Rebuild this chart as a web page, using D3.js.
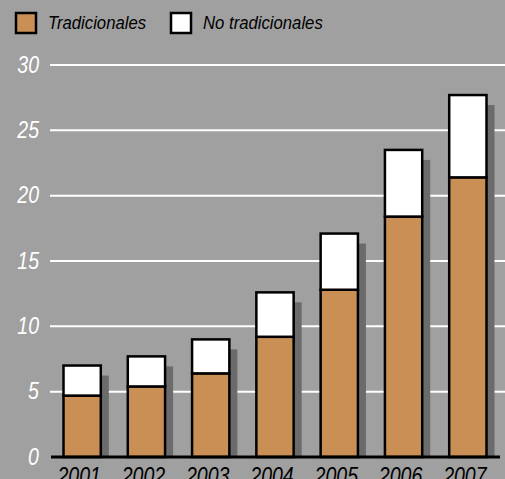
<!DOCTYPE html>
<html lang="es">
  <head>
    <meta charset="utf-8">
    <script src="https://cdnjs.cloudflare.com/ajax/libs/d3/7.8.5/d3.min.js"></script>
    <style>
      body { margin: 0; background: #a0a0a0; }
      svg { display: block; font-family: "Liberation Sans", Arial, sans-serif; font-style: italic; }
      .grid line { stroke: #fff; stroke-width: 2; }
      .ylab text { fill: #fff; font-size: 23px; }
      .xlab text { fill: #000; font-size: 23px; }
      .legend text { fill: #000; font-size: 19px; }
    </style>
  </head>
  <body>
  <script>
  var years = ['2001', '2002', '2003', '2004', '2005', '2006', '2007'];
  var tradicionales = [4.7, 5.4, 6.4, 9.2, 12.8, 18.4, 21.4];
  var noTradicionales = [2.3, 2.3, 2.6, 3.4, 4.3, 5.1, 6.3];
  var yTicks = [0, 5, 10, 15, 20, 25, 30];

  var width = 505,
      height = 479;

  // condensed look: squeeze the regular face horizontally
  var squeeze = 0.85;

  var svg = d3.select('body')
    .append('svg')
    .attr('width', width)
    .attr('height', height);

  var x = d3.scaleBand()
    .domain(years)
    .range([50, 500])
    .paddingInner(0.42)
    .paddingOuter(0.21);

  var y = d3.scaleLinear()
    .domain([0, 30])
    .range([457, 65]);

  var brown = '#c98f55';

  // gridlines
  svg.append('g').attr('class', 'grid')
    .selectAll('line')
    .data(yTicks.filter(d => d > 0))
    .enter().append('line')
      .attr('x1', 50).attr('x2', width)
      .attr('y1', d => y(d)).attr('y2', d => y(d));

  svg.append('g').attr('class', 'ylab')
    .selectAll('text')
    .data(yTicks)
    .enter().append('text')
      .attr('transform', d => 'translate(39,' + y(d) + ') scale(' + squeeze + ',1)')
      .attr('dy', '0.33em')
      .attr('text-anchor', 'end')
      .text(d => d);

  var rows = years.map((yr, i) => ({ year: yr, a: tradicionales[i], b: noTradicionales[i] }));

  // shadows
  svg.append('g')
    .selectAll('rect')
    .data(rows)
    .enter().append('rect')
      .attr('x', d => x(d.year) + 8)
      .attr('y', d => y(d.a + d.b) + 10)
      .attr('width', x.bandwidth())
      .attr('height', d => y(0) - y(d.a + d.b) - 10)
      .attr('fill', '#6b6b6b');

  var bars = svg.append('g')
    .selectAll('g')
    .data(rows)
    .enter().append('g');

  bars.append('rect')
    .attr('x', d => x(d.year))
    .attr('y', d => y(d.a))
    .attr('width', x.bandwidth())
    .attr('height', d => y(0) - y(d.a))
    .attr('fill', brown)
    .attr('stroke', '#000')
    .attr('stroke-width', 2.5);

  bars.append('rect')
    .attr('x', d => x(d.year))
    .attr('y', d => y(d.a + d.b))
    .attr('width', x.bandwidth())
    .attr('height', d => y(d.a) - y(d.a + d.b))
    .attr('fill', '#fff')
    .attr('stroke', '#000')
    .attr('stroke-width', 2.5);

  // baseline
  svg.append('line')
    .attr('x1', 51).attr('x2', 500)
    .attr('y1', y(0)).attr('y2', y(0))
    .attr('stroke', '#000')
    .attr('stroke-width', 3);

  svg.append('g').attr('class', 'xlab')
    .selectAll('text')
    .data(years)
    .enter().append('text')
      .attr('transform', d => 'translate(' + (x(d) + x.bandwidth() / 2 - 3) + ',484) scale(' + squeeze + ',1)')
      .attr('text-anchor', 'middle')
      .text(d => d);

  // legend
  var legend = svg.append('g').attr('class', 'legend');
  var items = [['Tradicionales', brown, 16], ['No tradicionales', '#fff', 171]];
  items.forEach(it => {
    legend.append('rect')
      .attr('x', it[2]).attr('y', 13)
      .attr('width', 20).attr('height', 20)
      .attr('fill', it[1])
      .attr('stroke', '#000')
      .attr('stroke-width', 2.5);
    legend.append('text')
      .attr('transform', 'translate(' + (it[2] + 32) + ',29) scale(0.88,1)')
      .text(it[0]);
  });
  </script>
  </body>
</html>
